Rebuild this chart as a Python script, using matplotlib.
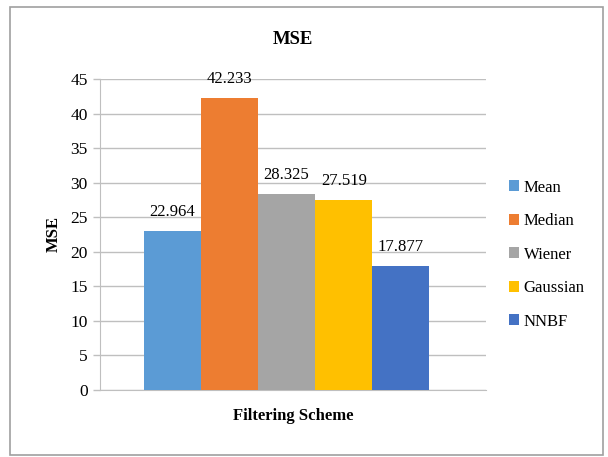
import matplotlib.pyplot as plt
from matplotlib.patches import Rectangle
import numpy as np

plt.rcParams['font.family'] = ['Liberation Serif', 'DejaVu Serif']

# data
filters = ['Mean', 'Median', 'Wiener', 'Gaussian', 'NNBF']
mse_values = [22.964, 42.233, 28.325, 27.519, 17.877]
colors = ['#5B9BD5', '#ED7D31', '#A5A5A5', '#FFC000', '#4472C4']
y_ticks = [0, 5, 10, 15, 20, 25, 30, 35, 40, 45]

fig = plt.figure(figsize=(6.08, 4.57), dpi=100)
ax = fig.add_axes([0.164, 0.147, 0.635, 0.680])

# frame around the whole chart
fig.patches.append(Rectangle((10 / 608, 2 / 457), 593 / 608, 448 / 457, transform=fig.transFigure,
                             fill=False, edgecolor='#a0a0a0', linewidth=1.2))

width = 0.148
offsets = (np.arange(len(filters)) - 2) * width - 0.016
for i, name in enumerate(filters):
    bars = ax.bar(offsets[i], mse_values[i], width=width, color=colors[i], label=name, zorder=3)
    ax.bar_label(bars, labels=[f'{mse_values[i]:.3f}'], padding=8, fontsize=12)

ax.set_xlim(-0.5, 0.5)
ax.set_ylim(0, 45)
ax.set_yticks(y_ticks)
ax.set_xticks([])
ax.yaxis.grid(True, color='#bfbfbf', linewidth=1)
ax.set_axisbelow(True)
for side in ['top', 'right']:
    ax.spines[side].set_visible(False)
ax.spines['left'].set_color('#bfbfbf')
ax.spines['bottom'].set_color('#bfbfbf')
ax.tick_params(axis='y', colors='#bfbfbf', labelcolor='black', labelsize=12.5, length=5, width=1)

ax.set_title('MSE', fontsize=13.5, fontweight='bold', pad=25)
ax.set_ylabel('MSE', fontsize=12, fontweight='bold', labelpad=6)
ax.set_xlabel('Filtering Scheme', fontsize=12, fontweight='bold', labelpad=13)

ax.legend(loc='center left', bbox_to_anchor=(1.02, 0.435), frameon=False, fontsize=12,
          handlelength=0.6, handleheight=0.6, handletextpad=0.3, labelspacing=1.05)

fig.savefig('out.png', dpi=100)
